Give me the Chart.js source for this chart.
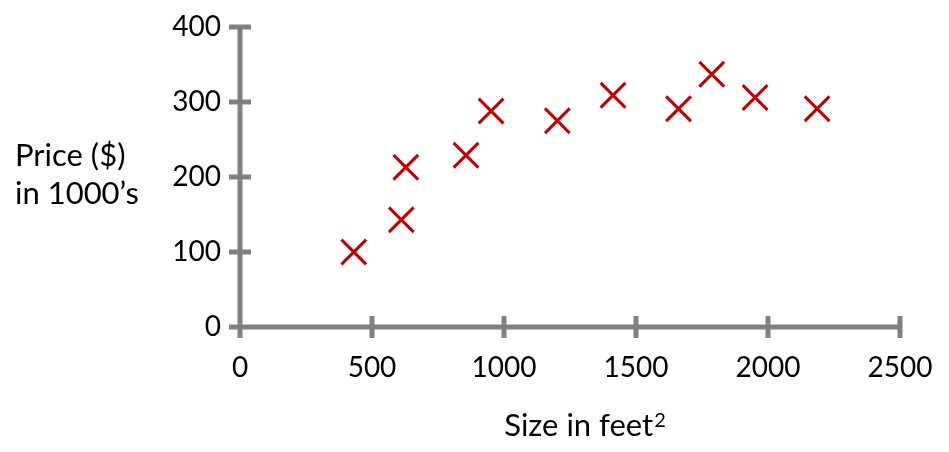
<!DOCTYPE html>
<html>
<head>
<meta charset="utf-8">
<script src="https://cdn.jsdelivr.net/npm/chart.js@4"></script>
<style>
  html, body { margin: 0; padding: 0; background: #fff; }
  #wrap { width: 949px; height: 452px; position: relative; }
</style>
</head>
<body>
<div id="wrap"><canvas id="chart"></canvas></div>
<script>
// house sizes (feet^2) and prices ($1000s)
const sizes  = [431, 611, 628, 856, 951, 1202, 1413, 1661, 1787, 1951, 2186];
const prices = [100, 143, 213, 229, 288, 275, 309, 291, 337, 306, 291];

const xTicks = [0, 500, 1000, 1500, 2000, 2500];
const yTicks = [0, 100, 200, 300, 400];

const AXIS_GRAY = "#808080";
const MARK_RED = "#C00000";
const FONT = "Lato, 'Open Sans', sans-serif";

// axes with ticks that cross the line, like the original slide
const crossAxes = {
  id: "crossAxes",
  afterDraw(chart) {
    const { ctx, scales: { x, y } } = chart;
    const half = 11;
    const x0 = x.getPixelForValue(0), y0 = y.getPixelForValue(0);
    ctx.save();
    ctx.strokeStyle = AXIS_GRAY;
    ctx.lineWidth = 5;
    ctx.lineCap = "butt";
    ctx.beginPath();
    // axis lines
    ctx.moveTo(x0, y.getPixelForValue(400) - 2.5);
    ctx.lineTo(x0, y0 + half);
    ctx.moveTo(x0 - half, y0);
    ctx.lineTo(x.getPixelForValue(2500) + 2.5, y0);
    // ticks
    yTicks.forEach(v => {
      const py = y.getPixelForValue(v);
      ctx.moveTo(x0 - half, py);
      ctx.lineTo(x0 + half, py);
    });
    xTicks.forEach(v => {
      const px = x.getPixelForValue(v);
      ctx.moveTo(px, y0 - half);
      ctx.lineTo(px, y0 + half);
    });
    ctx.stroke();

    // horizontal y-axis caption at the left
    ctx.fillStyle = "#000";
    ctx.font = `31px ${FONT}`;
    ctx.textAlign = "left";
    ctx.textBaseline = "alphabetic";
    ctx.fillText("Price ($)", 15, 166);
    ctx.fillText("in 1000\u2019s", 15, 204);

    // x caption, a little right of centre, with a real superscript
    const base = "Size in feet";
    ctx.font = `31px ${FONT}`;
    const w1 = ctx.measureText(base).width;
    ctx.font = `20px ${FONT}`;
    const w2 = ctx.measureText("2").width;
    const left = 585 - (w1 + w2 + 1) / 2;
    ctx.font = `31px ${FONT}`;
    ctx.fillText(base, left, 436);
    ctx.font = `20px ${FONT}`;
    ctx.fillText("2", left + w1 + 1, 427);
    ctx.restore();
  }
};

new Chart(document.getElementById("chart"), {
  type: "scatter",
  data: {
    datasets: [{
      data: sizes.map((s, i) => ({ x: s, y: prices[i] })),
      pointStyle: "crossRot",
      radius: 17.5,
      hoverRadius: 17.5,
      borderColor: MARK_RED,
      borderWidth: 3
    }]
  },
  options: {
    responsive: true,
    maintainAspectRatio: false,
    animation: false,
    layout: { padding: { top: 27, right: 49, left: 0, bottom: 0 } },
    plugins: {
      legend: { display: false },
      tooltip: { enabled: false }
    },
    scales: {
      x: {
        type: "linear",
        min: 0,
        max: 2500,
        afterBuildTicks: s => { s.ticks = xTicks.map(v => ({ value: v })); },
        afterFit: s => {
          s.height = 452 - 327;
          s.paddingLeft = 0;
          s.paddingRight = 0;
        },
        grid: { display: false, drawTicks: false },
        border: { display: false },
        ticks: {
          padding: 24,
          color: "#000",
          font: { family: FONT, size: 28 },
          maxRotation: 0,
          callback: v => String(v)
        }
      },
      y: {
        type: "linear",
        min: 0,
        max: 400,
        afterBuildTicks: s => { s.ticks = yTicks.map(v => ({ value: v })); },
        afterFit: s => {
          s.width = 240;
          s.paddingTop = 0;
          s.paddingBottom = 0;
        },
        grid: { display: false, drawTicks: false },
        border: { display: false },
        ticks: {
          padding: 19,
          color: "#000",
          font: { family: FONT, size: 28 },
          callback: v => String(v)
        }
      }
    }
  },
  plugins: [crossAxes]
});
</script>
</body>
</html>
